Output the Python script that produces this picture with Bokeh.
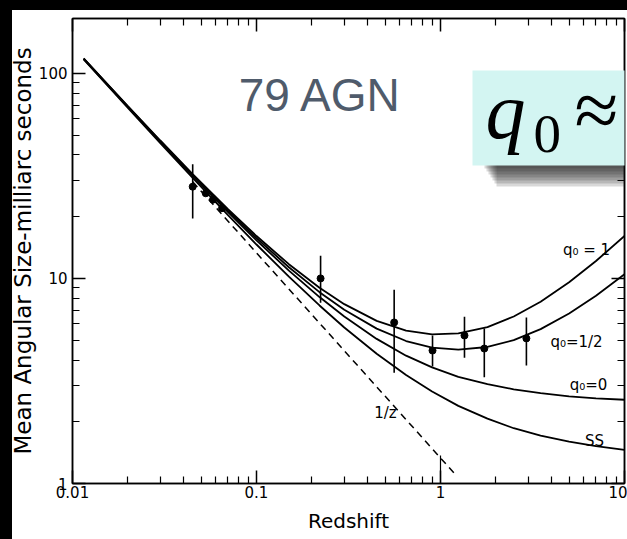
import math

from bokeh.plotting import figure
from bokeh.embed import file_html
from bokeh.resources import INLINE
from bokeh.models import (Range1d, LogAxis, FixedTicker, BoxAnnotation, Label,
                          ColumnDataSource)

# ---- model curves: mean angular size (mas) vs redshift ----
z_curve = [0.0115, 0.015, 0.02, 0.03, 0.045, 0.07, 0.1, 0.15, 0.22, 0.3,
           0.45, 0.65, 0.9, 1.25, 1.8, 2.5, 3.5, 5.0, 7.0, 10.0]
theta_q1 = [118.3, 91.35, 69.19, 47.03, 32.27, 21.75, 16.09, 11.73, 9.00, 7.49,
            6.21, 5.57, 5.33, 5.39, 5.79, 6.52, 7.69, 9.58, 12.16, 16.09]
theta_q_half = [117.97, 91.0, 68.84, 46.69, 31.92, 21.39, 15.72, 11.33, 8.57, 7.03,
                5.69, 4.95, 4.60, 4.49, 4.63, 5.00, 5.66, 6.74, 8.23, 10.47]
theta_q0 = [117.65, 90.67, 68.50, 46.34, 31.57, 21.02, 15.33, 10.91, 8.11, 6.52,
            5.07, 4.20, 3.68, 3.31, 3.05, 2.88, 2.76, 2.66, 2.60, 2.56]
theta_ss = [116.98, 90.0, 67.83, 45.66, 30.89, 20.33, 14.63, 10.20, 7.38, 5.76,
            4.29, 3.38, 2.81, 2.39, 2.07, 1.86, 1.71, 1.60, 1.52, 1.46]

# Euclidean 1/z reference line
z_inv = [0.045, 1.2]
theta_inv = [29.6, 1.11]

# ---- binned AGN sample ----
z_obs = [0.045, 0.053, 0.058, 0.065, 0.223, 0.56, 0.905, 1.35, 1.73, 2.93]
theta_obs = [28.0, 26.0, 24.2, 22.0, 10.0, 6.1, 4.45, 5.27, 4.55, 5.1]
theta_lo = [19.6, 26.0, 24.2, 22.0, 7.6, 3.47, 3.72, 4.1, 3.3, 3.76]
theta_hi = [36.0, 26.0, 24.2, 22.0, 12.9, 8.8, 5.27, 6.5, 5.7, 6.45]

x_ticks = [0.01, 0.1, 1, 10]
x_tick_labels = ["0.01", "0.1", "1", "10"]
y_ticks = [1, 10, 100]
y_tick_labels = ["1", "10", "100"]

# plot frame position on the page (pixels)
FRAME_L, FRAME_R, FRAME_T, FRAME_B = 72, 624, 18, 483
Y_TOP = 185.0
X_MIN, X_MAX, Y_MIN = 0.01, 10.0, 1.0


def at(xp, yp):
    """Pixel position on the page -> data coordinates of the log-log frame."""
    fx = (xp - FRAME_L) / (FRAME_R - FRAME_L)
    fy = (FRAME_B - yp) / (FRAME_B - FRAME_T)
    lx = math.log10(X_MIN) + fx * (math.log10(X_MAX) - math.log10(X_MIN))
    ly = math.log10(Y_MIN) + fy * (math.log10(Y_TOP) - math.log10(Y_MIN))
    return 10 ** lx, 10 ** ly


p = figure(width=627, height=539, x_axis_type="log", y_axis_type="log",
           x_range=Range1d(X_MIN, X_MAX), y_range=Range1d(Y_MIN, Y_TOP),
           output_backend="svg", toolbar_location=None,
           min_border_left=FRAME_L, min_border_right=627 - FRAME_R,
           min_border_top=FRAME_T, min_border_bottom=539 - FRAME_B)
p.background_fill_color = "white"
p.border_fill_color = "white"
p.outline_line_color = "black"
p.outline_line_width = 1.5
p.xgrid.visible = False
p.ygrid.visible = False

minor_x = [m * 10 ** e for e in (-2, -1, 0) for m in range(2, 10)]
minor_y = [m * 10 ** e for e in (0, 1, 2) for m in range(2, 10) if m * 10 ** e < Y_TOP]

LABEL_FONT = "DejaVu Sans"


def style_axis(ax, ticks, minors, labels, show_labels):
    ax.ticker = FixedTicker(ticks=ticks, minor_ticks=minors)
    ax.major_label_overrides = {t: l for t, l in zip(ticks, labels)}
    ax.axis_line_color = "black"
    ax.axis_line_width = 1.5
    ax.major_tick_line_color = "black"
    ax.minor_tick_line_color = "black"
    ax.major_tick_line_width = 1.5
    ax.minor_tick_line_width = 1.2
    ax.major_tick_out = 0
    ax.minor_tick_out = 0
    ax.major_tick_in = 13
    ax.minor_tick_in = 7
    if show_labels:
        ax.major_label_text_font = LABEL_FONT
        ax.major_label_text_font_size = "15px"
        ax.major_label_text_color = "black"
        ax.major_label_standoff = 5
        ax.axis_label_text_font = LABEL_FONT
        ax.axis_label_text_font_size = "20px"
        ax.axis_label_text_font_style = "normal"
        ax.axis_label_text_color = "black"
        ax.axis_label_standoff = 8
    else:
        ax.major_label_text_font_size = "0px"
        ax.major_label_standoff = 0


style_axis(p.xaxis[0], x_ticks, minor_x, x_tick_labels, True)
style_axis(p.yaxis[0], y_ticks, minor_y, y_tick_labels, True)
p.xaxis[0].major_label_standoff = 2
p.xaxis.axis_label = "Redshift"
p.yaxis[0].axis_label_text_font_size = "23px"
p.yaxis[0].axis_label_standoff = 0
p.yaxis.axis_label = "Mean Angular Size-milliarc seconds"

top_ax = LogAxis()
right_ax = LogAxis()
style_axis(top_ax, x_ticks, minor_x, ["", "", "", ""], False)
style_axis(right_ax, y_ticks, minor_y, ["", "", ""], False)
p.add_layout(top_ax, "above")
p.add_layout(right_ax, "right")

# model curves
for ys in (theta_q1, theta_q_half, theta_q0, theta_ss):
    p.line(z_curve, ys, line_color="black", line_width=1.8)
p.line(z_inv, theta_inv, line_color="black", line_width=1.5, line_dash="7 5")

# longer tick mark at z = 1 on the lower axis
p.segment(x0=[1.0], y0=[1.0], x1=[1.0], y1=[1.37], line_color="black", line_width=1.2)

# data points with error bars
src = ColumnDataSource(dict(z=z_obs, t=theta_obs, lo=theta_lo, hi=theta_hi))
p.segment(x0="z", y0="lo", x1="z", y1="hi", source=src, line_color="black", line_width=1.6)
p.scatter("z", "t", source=src, size=7, color="black")

# curve labels
curve_labels = [("q\u2080 = 1", 586, 249), ("q\u2080=1/2", 576, 341),
                ("q\u2080=0", 588, 384), ("SS", 594, 440), ("1/z", 385, 412)]
for txt, xp, yp in curve_labels:
    lx, ly = at(xp, yp)
    p.add_layout(Label(x=lx, y=ly, text=txt, text_font=LABEL_FONT,
                       text_font_size="15px", text_align="center",
                       text_baseline="middle", text_color="black"))

# sample size banner
ax_, ay_ = at(320, 94)
p.add_layout(Label(x=ax_, y=ay_, text="79 AGN", text_font="Liberation Sans",
                   text_font_size="46px", text_color="#4f5b6b",
                   text_align="center", text_baseline="middle"))

# drop shadow under the highlighted box
for i in range(7):
    l, t = at(484 + 2 * i, 163)
    r, b = at(640, 165 + 3 * (i + 1))
    p.add_layout(BoxAnnotation(left=l, right=r, top=t, bottom=b,
                               fill_color="#1a1a1a", fill_alpha=0.17,
                               line_color=None))

bl, bt = at(472, 70)
br, bb = at(640, 165)
p.add_layout(BoxAnnotation(left=bl, right=br, top=bt, bottom=bb,
                           fill_color="#d3f5f2", fill_alpha=1.0,
                           line_color=None))

qx, qy = at(485, 110)
p.add_layout(Label(x=qx, y=qy, text="q", text_font="Liberation Serif",
                   text_font_style="italic", text_font_size="80px",
                   text_color="black", text_baseline="middle", text_align="left"))
zx, zy = at(533, 133)
p.add_layout(Label(x=zx, y=zy, text="0", text_font="Liberation Serif",
                   text_font_size="55px", text_color="black",
                   text_baseline="middle", text_align="left"))
ex, ey = at(574, 109)
p.add_layout(Label(x=ex, y=ey, text="\u2248", text_font="Liberation Serif",
                   text_font_size="80px", text_color="black",
                   text_baseline="middle", text_align="left"))

html = file_html(p, INLINE, title="Angular size vs redshift")
# dark scanner edges along the left and top of the page
edge_css = ("<style>html,body{margin:0;padding:0;background:#000;}"
            "body::before{content:'';position:fixed;left:0;top:0;width:12px;height:100%;"
            "background:#000;z-index:1000;}"
            "body::after{content:'';position:fixed;left:0;top:0;width:100%;height:10px;"
            "background:#000;z-index:1000;}</style>")
html = html.replace("<head>", "<head>" + edge_css, 1)
open("out.html", "w").write(html)
